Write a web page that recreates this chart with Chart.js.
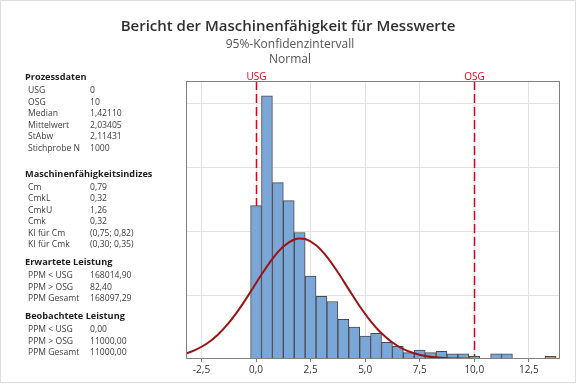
<!DOCTYPE html>
<html>
<head>
<meta charset="utf-8">
<script src="https://cdn.jsdelivr.net/npm/chart.js@4/dist/chart.umd.min.js"></script>
<style>
  body { margin: 0; background: #fff; }
  #wrap { position: relative; width: 576px; height: 384px; font-family: "Open Sans", "Noto Sans", sans-serif; }
  #frame { position: absolute; left: 0; top: 0; width: 574px; height: 381px; border: 1px solid #dcdcdc; }
  canvas { position: absolute; left: 0; top: 0; }
  .t { position: absolute; white-space: nowrap; line-height: 14px; }
  .head { font-size: 9.2px; font-weight: 700; color: #1e1e1e; }
  .row { font-size: 8.6px; color: #3c3c3c; }
  .title { font-size: 15px; font-weight: 600; color: #303030; left: 0; width: 576px; text-align: center; }
  .sub { font-size: 12px; color: #555; left: 0; width: 580px; text-align: center; }
</style>
</head>
<body>
<div id="wrap">
  <div id="frame"></div>
  <canvas id="chart" width="576" height="384"></canvas>
</div>
<script>
// histogram bins (width 0.5) and counts
const binCenters = [0, 0.5, 1, 1.5, 2, 2.5, 3, 3.5, 4, 4.5, 5, 5.5, 6, 6.5, 7, 7.5,
                    8, 8.5, 9, 9.5, 10, 10.5, 11, 11.5, 12, 12.5, 13, 13.5];
const binCounts  = [120, 206, 138, 124, 99, 65, 49, 45, 31, 25, 18, 20, 13, 10, 5, 7,
                    5, 6, 4, 4, 2, 0, 4, 4, 0, 0, 0, 2];

// fitted normal curve
const curveX = [-3.2, -2.75, -2.25, -1.75, -1.25, -0.75, -0.25, 0.25, 0.75, 1.25, 1.75, 2.0, 2.25,
                2.75, 3.25, 3.75, 4.25, 4.75, 5.25, 5.75, 6.25, 6.75, 7.25, 7.75, 8.25, 8.75, 9.25, 9.75, 10.25];
const curveY = [4.4, 7.3, 12.1, 19.0, 28.2, 39.6, 52.6, 66.1, 78.4, 88.1, 93.5, 94.3, 93.9,
                89.1, 80.0, 67.9, 54.5, 41.3, 29.7, 20.1, 12.9, 7.8, 4.5, 2.4, 1.3, 0.6, 0.3, 0.1, 0.05];

const xTicks = [-2.5, 0, 2.5, 5, 7.5, 10, 12.5];
const limitNames = ['USG', 'OSG'];
const limitValues = [0, 10];

const titles = ['Bericht der Maschinenfähigkeit für Messwerte', '95%-Konfidenzintervall', 'Normal'];

const sections = [
  { head: 'Prozessdaten', y: 77.3, rows: [['USG', '0'], ['OSG', '10'], ['Median', '1,42110'],
      ['Mittelwert', '2,03405'], ['StAbw', '2,11431'], ['Stichprobe N', '1000']] },
  { head: 'Maschinenfähigkeitsindizes', y: 173.7, rows: [['Cm', '0,79'], ['CmkL', '0,32'], ['CmkU', '1,26'],
      ['Cmk', '0,32'], ['KI für Cm', '(0,75; 0,82)'], ['KI für Cmk', '(0,30; 0,35)']] },
  { head: 'Erwartete Leistung', y: 262.3, rows: [['PPM < USG', '168014,90'], ['PPM > OSG', '82,40'],
      ['PPM Gesamt', '168097,29']] },
  { head: 'Beobachtete Leistung', y: 316.3, rows: [['PPM < USG', '0,00'], ['PPM > OSG', '11000,00'],
      ['PPM Gesamt', '11000,00']] }
];

const wrap = document.getElementById('wrap');
function addText(txt, cls, x, yc) {
  const d = document.createElement('div');
  d.className = 't ' + cls;
  d.textContent = txt;
  d.style.top = (yc - 7) + 'px';
  if (x !== null) d.style.left = x + 'px';
  wrap.appendChild(d);
}
addText(titles[0], 'title', null, 25);
addText(titles[1], 'sub', null, 43.5);
addText(titles[2], 'sub', null, 58.5);
sections.forEach(s => {
  addText(s.head, 'head', 25, s.y);
  s.rows.forEach((r, i) => {
    const y = s.y + 13 + i * 11.5;
    addText(r[0], 'row', 28, y);
    addText(r[1], 'row', 90, y);
  });
});

const fmt = v => v.toFixed(1).replace('.', ',');

const limitLines = {
  id: 'limitLines',
  beforeDatasetsDraw(chart) {
    const { ctx, chartArea, scales } = chart;
    ctx.save();
    ctx.strokeStyle = '#e0001a';
    ctx.fillStyle = '#e0001a';
    ctx.lineWidth = 1.5;
    ctx.setLineDash([9, 4]);
    ctx.font = '10px "Open Sans", sans-serif';
    ctx.textAlign = 'center';
    ctx.textBaseline = 'alphabetic';
    limitValues.forEach((v, i) => {
      const x = Math.round(scales.x.getPixelForValue(v)) + 0.5;
      ctx.beginPath();
      ctx.moveTo(x, chartArea.top);
      ctx.lineTo(x, chartArea.bottom);
      ctx.stroke();
      ctx.fillText(limitNames[i], x, chartArea.top - 1);
    });
    ctx.restore();
  },
  afterDraw(chart) {
    const { ctx, chartArea: a } = chart;
    ctx.save();
    ctx.strokeStyle = '#808080';
    ctx.lineWidth = 1;
    ctx.strokeRect(a.left + 0.5, a.top + 0.5, a.right - a.left - 1, a.bottom - a.top - 1);
    ctx.restore();
  }
};

new Chart(document.getElementById('chart'), {
  type: 'bar',
  data: {
    datasets: [{
      type: 'line',
      data: curveX.map((x, i) => ({ x: x, y: curveY[i] })),
      borderColor: '#9c1414',
      borderWidth: 2,
      pointRadius: 0,
      cubicInterpolationMode: 'monotone',
      order: 0
    }, {
      type: 'bar',
      data: binCenters.map((x, i) => ({ x: x, y: binCounts[i] || null })),
      backgroundColor: '#7ba6d8',
      borderColor: '#4a4a4a',
      borderWidth: 1,
      borderSkipped: false,
      barPercentage: 1,
      categoryPercentage: 1,
      grouped: false,
      order: 1
    }]
  },
  options: {
    responsive: false,
    animation: false,
    layout: { padding: { left: 186, right: 16, top: 81, bottom: 0 } },
    plugins: { legend: { display: false }, tooltip: { enabled: false } },
    scales: {
      x: {
        type: 'linear',
        offset: false,
        min: -3.21,
        max: 13.93,
        afterBuildTicks: s => { s.ticks = xTicks.map(v => ({ value: v })); },
        afterFit: s => { s.height = 25; },
        ticks: { callback: v => fmt(v), color: '#333', font: { size: 10, family: '"Open Sans", sans-serif' }, padding: 2, maxRotation: 0 },
        grid: { offset: false, color: '#e2e2e2', tickColor: '#808080', tickLength: 3 },
        border: { display: false }
      },
      y: {
        min: 0,
        max: 217.6,
        afterBuildTicks: s => { s.ticks = [50, 100, 150, 200].map(v => ({ value: v })); },
        afterFit: s => { s.width = 0; },
        ticks: { display: false },
        grid: { color: '#e2e2e2', drawTicks: false },
        border: { display: false }
      }
    }
  },
  plugins: [limitLines]
});
</script>
</body>
</html>
